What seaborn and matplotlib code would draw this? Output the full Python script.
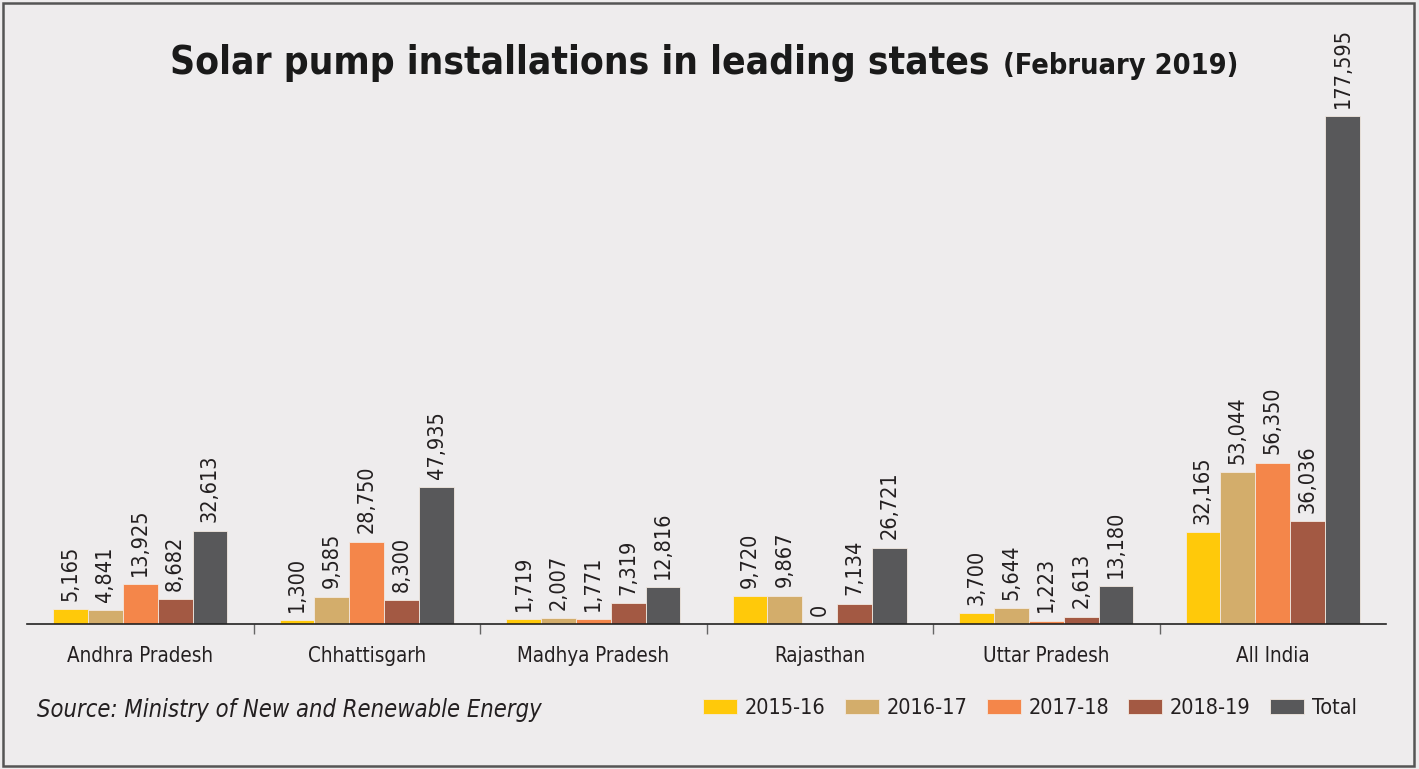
import matplotlib
matplotlib.use("Agg")
import matplotlib.pyplot as plt
import matplotlib.font_manager as fm
import seaborn as sns
import pandas as pd
from matplotlib.patches import Rectangle
from matplotlib.ticker import FixedLocator

states = ["Andhra Pradesh", "Chhattisgarh", "Madhya Pradesh", "Rajasthan", "Uttar Pradesh", "All India"]
years = ["2015-16", "2016-17", "2017-18", "2018-19", "Total"]
v_2015_16 = [5165, 1300, 1719, 9720, 3700, 32165]
v_2016_17 = [4841, 9585, 2007, 9867, 5644, 53044]
v_2017_18 = [13925, 28750, 1771, 0, 1223, 56350]
v_2018_19 = [8682, 8300, 7319, 7134, 2613, 36036]
v_total = [32613, 47935, 12816, 26721, 13180, 177595]
colors = ["#FFC90A", "#D3AD6B", "#F4864A", "#A35943", "#58585A"]

series = [v_2015_16, v_2016_17, v_2017_18, v_2018_19, v_total]
rows = []
for yr, vals in zip(years, series):
    for st, v in zip(states, vals):
        rows.append({"State": st, "Year": yr, "Count": v})
df = pd.DataFrame(rows)

sns.set_theme(style="white")

# pick a narrow font if one is installed
narrow_fp = None
for f in fm.fontManager.ttflist:
    if ("Narrow" in f.name or "Condensed" in f.name or f.stretch in ("condensed", "semi-condensed")) \
            and f.style == "normal" and f.weight in (400, "normal", "regular"):
        narrow_fp = f
        break
if narrow_fp is not None:
    FONT = [narrow_fp.name, "Liberation Sans", "DejaVu Sans"]
    STRETCH = narrow_fp.stretch
    NARROW = True
else:
    FONT = ["Liberation Sans", "DejaVu Sans"]
    STRETCH = "normal"
    NARROW = False
plt.rcParams["font.family"] = FONT
plt.rcParams["font.stretch"] = STRETCH
BG = "#EEECED"
TXT = "#231F20"

W, H = 1419, 769
fig = plt.figure(figsize=(W / 100, H / 100), dpi=100, facecolor=BG)

def fx(px):
    return px / W

def fy(py):
    return 1 - py / H

ax_top, ax_bot = 20, 624
ax = fig.add_axes([fx(27), fy(ax_bot), fx(1386) - fx(27), fy(ax_top) - fy(ax_bot)])
ax.set_facecolor(BG)

sns.barplot(data=df, x="State", y="Count", hue="Year", order=states, hue_order=years,
            palette=colors, width=0.77, ax=ax, edgecolor="#F3E9E1", linewidth=0.6,
            legend=False, errorbar=None, saturation=1)

ax.set_xlim(-0.5, len(states) - 0.5)
ax.set_ylim(0, 177595 * (ax_bot - ax_top) / 508)

lab_fs = 15.5 if NARROW else 16
for cont, vals in zip(ax.containers, series):
    ax.bar_label(cont, labels=[f"{v:,}" for v in vals], rotation=90, padding=6,
                 fontsize=lab_fs, color=TXT)

for s in ["top", "left", "right"]:
    ax.spines[s].set_visible(False)
ax.spines["bottom"].set_color("#222222")
ax.spines["bottom"].set_linewidth(1.2)
ax.set_yticks([])
ax.set_xlabel("")
ax.set_ylabel("")
ax.tick_params(axis="x", which="major", length=0, pad=16, labelsize=(14.8 if NARROW else 15),
               labelcolor=TXT)
ax.xaxis.set_minor_locator(FixedLocator([i + 0.5 for i in range(len(states) - 1)]))
ax.tick_params(axis="x", which="minor", length=7, width=1, color="#666666", bottom=True)

# Legend
handles = [Rectangle((0, 0), 1, 1, facecolor=c, edgecolor="#F3E9E1", linewidth=0.6) for c in colors]
leg_fs = 15.5
fig.legend(handles, years, loc="center right", bbox_to_anchor=(fx(1376), fy(708)), ncol=5,
           frameon=False, fontsize=leg_fs, handlelength=34 / (leg_fs * 1.389),
           handleheight=15 / (leg_fs * 1.389), handletextpad=0.35, columnspacing=0.9,
           labelcolor=TXT)

# Source
fig.text(fx(37), fy(710), "Source: Ministry of New and Renewable Energy", ha="left", va="center",
         fontsize=17, style="italic", color=TXT)

# Title
fig.canvas.draw()
r = fig.canvas.get_renderer()
t1 = fig.text(fx(170), fy(74), "Solar pump installations in leading states", ha="left",
              va="baseline", fontsize=40, fontweight="bold", color="#1A1A1A")
bb = t1.get_window_extent(r)
t1.set_fontsize(40 * 820 / bb.width)
bb = t1.get_window_extent(r)
t2 = fig.text(fx(170) + (bb.width + 14) / W, fy(74), "(February 2019)", ha="left",
              va="baseline", fontsize=26, fontweight="bold", color="#1A1A1A")
bb2 = t2.get_window_extent(r)
t2.set_fontsize(26 * 235 / bb2.width)

# Frame
fig.patches.append(Rectangle((fx(3), fy(766)), fx(1414) - fx(3), fy(3) - fy(766),
                             transform=fig.transFigure, fill=False, edgecolor="#555555",
                             linewidth=1.8))

fig.savefig("out.png", dpi=100, facecolor=BG)
